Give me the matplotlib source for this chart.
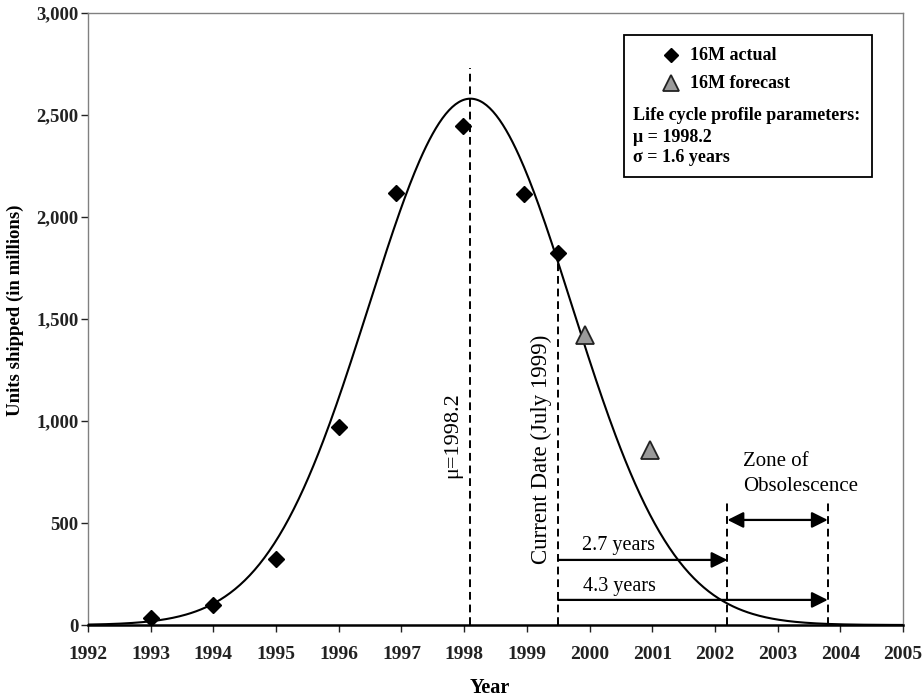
import numpy as np
import matplotlib
matplotlib.use("Agg")
import matplotlib.pyplot as plt
from matplotlib.patches import Rectangle
from matplotlib.lines import Line2D

plt.rcParams['font.family'] = ['Liberation Serif', 'DejaVu Serif']

# data
actual_years = [1993, 1994, 1995, 1996, 1996.92, 1997.98, 1998.95, 1999.5]
actual_units = [33, 98, 323, 972, 2116, 2446, 2111, 1822]
forecast_years = [1999.93, 2000.97]
forecast_units = [1422, 858]

# life cycle profile (normal curve)
mu = 1998.1
sigma = 1.62
peak = 2580
current_date = 1999.5
years_to_start = 2.7
years_to_end = 4.3

year_ticks = list(range(1992, 2006))
unit_ticks = [0, 500, 1000, 1500, 2000, 2500, 3000]

W, H = 922, 699
fig = plt.figure(figsize=(W / 100, H / 100), dpi=100)
ax = fig.add_axes([88 / W, 1 - 625 / H, (903 - 88) / W, (625 - 13) / H])


def fpx(x, y):
    # image pixel -> figure fraction
    return x / W, 1 - y / H


t = np.linspace(1992, 2005, 500)
curve = peak * np.exp(-0.5 * ((t - mu) / sigma) ** 2)
ax.plot(t, curve, color='black', lw=1.5, zorder=3)

ax.plot(actual_years, actual_units, linestyle='none', marker='D', ms=8,
        color='black', zorder=4)
ax.plot(forecast_years, forecast_units, linestyle='none', marker='^', ms=13,
        markerfacecolor='#9a9a9a', markeredgecolor='#222222', mew=1.3, zorder=4)

dash = (0, (4, 2.5))
ax.plot([mu, mu], [0, 2730], color='black', lw=1.4, linestyle=dash, zorder=2)
ax.plot([current_date, current_date], [0, 1822], color='black', lw=1.4,
        linestyle=dash, zorder=2)
start = current_date + years_to_start
end = current_date + years_to_end
for xv in (start, end):
    ax.plot([xv, xv], [0, 604], color='black', lw=1.4, linestyle=dash, zorder=2)

arrow = dict(arrowstyle='-|>', color='black', lw=1.6, mutation_scale=24,
             shrinkA=0, shrinkB=0)
ax.annotate('', xy=(start, 319), xytext=(current_date, 319), arrowprops=arrow)
ax.annotate('', xy=(end, 123), xytext=(current_date, 123), arrowprops=arrow)
ax.annotate('', xy=(end, 515), xytext=(start, 515),
            arrowprops=dict(arrowstyle='<|-|>', color='black', lw=1.6,
                            mutation_scale=24, shrinkA=0, shrinkB=0))

ax.text(1999.88, 345, '2.7 years', fontsize=14.5, va='bottom', ha='left')
ax.text(1999.9, 140, '4.3 years', fontsize=14.5, va='bottom', ha='left')
ax.text(2002.45, 800, 'Zone of', fontsize=15, va='center', ha='left')
ax.text(2002.45, 680, 'Obsolescence', fontsize=15, va='center', ha='left')
ax.text(mu - 0.28, 720, 'μ=1998.2', rotation=90, fontsize=16,
        ha='center', va='bottom')
ax.text(current_date - 0.27, 300, 'Current Date (July 1999)', rotation=90,
        fontsize=16.5, ha='center', va='bottom')

ax.set_xlim(1992, 2005)
ax.set_ylim(0, 3000)
ax.set_xticks(year_ticks)
ax.set_yticks(unit_ticks)
ax.set_xticklabels([str(y) for y in year_ticks], fontsize=14, fontweight='bold')
ax.set_yticklabels(['{:,}'.format(v) for v in unit_ticks], fontsize=13.5,
                   fontweight='bold')
ax.tick_params(axis='x', direction='out', length=5, width=1, pad=10, colors='#222222')
ax.tick_params(axis='y', direction='out', length=5, width=1, pad=2, colors='#222222')

for side in ('left', 'top', 'right'):
    ax.spines[side].set_color('0.5')
    ax.spines[side].set_linewidth(1.0)
    ax.spines[side].set_linestyle((0, (3, 1)))
ax.spines['bottom'].set_color('black')
ax.spines['bottom'].set_linewidth(1.8)

fig.text(*fpx(15, 310), 'Units shipped (in millions)', rotation=90,
         fontsize=13.5, fontweight='bold', ha='center', va='center')
fig.text(*fpx(490, 688), 'Year', fontsize=14.5, fontweight='bold',
         ha='center', va='center')

# legend box
x0, y0 = fpx(624, 177)
x1, y1 = fpx(872, 35)
fig.add_artist(Rectangle((x0, y0), x1 - x0, y1 - y0, transform=fig.transFigure,
                         facecolor='white', edgecolor='black', lw=1.3, zorder=5))
mx, my = fpx(671, 55)
fig.add_artist(Line2D([mx], [my], marker='D', ms=7, color='black',
                      transform=fig.transFigure, zorder=6))
mx, my = fpx(671, 83)
fig.add_artist(Line2D([mx], [my], marker='^', ms=12, markerfacecolor='#9a9a9a',
                      markeredgecolor='#222222', mew=1.3,
                      transform=fig.transFigure, zorder=6))
fig.text(*fpx(690, 55), '16M actual', fontsize=13, fontweight='bold',
         va='center', ha='left', zorder=6)
fig.text(*fpx(690, 84), '16M forecast', fontsize=13, fontweight='bold',
         va='center', ha='left', zorder=6)
fig.text(*fpx(633, 115), 'Life cycle profile parameters:', fontsize=13,
         fontweight='bold', va='center', ha='left', zorder=6)
fig.text(*fpx(633, 137), 'μ = 1998.2', fontsize=13, fontweight='bold',
         va='center', ha='left', zorder=6)
fig.text(*fpx(633, 158), 'σ = 1.6 years', fontsize=13, fontweight='bold',
         va='center', ha='left', zorder=6)

fig.savefig('out.png', dpi=100)
